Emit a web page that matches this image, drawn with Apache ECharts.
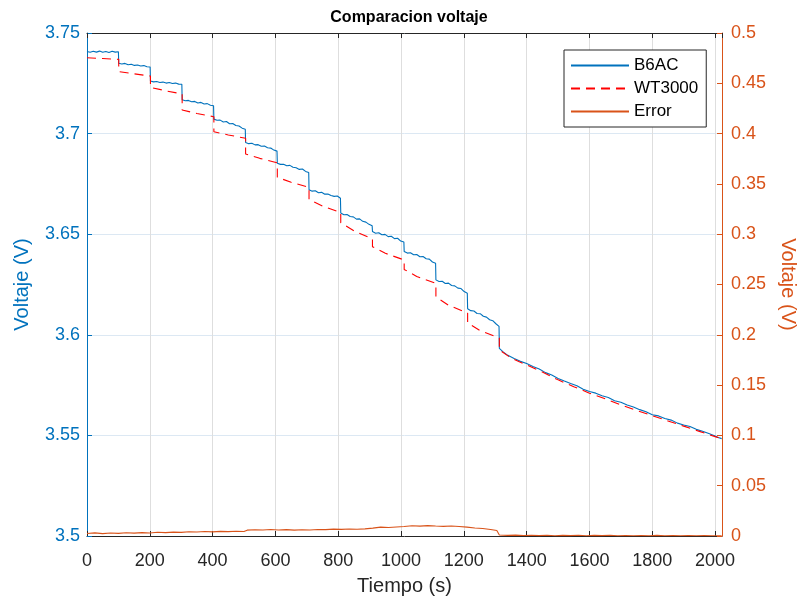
<!DOCTYPE html>
<html>
<head>
<meta charset="utf-8">
<title>Comparacion voltaje</title>
<script src="https://cdn.jsdelivr.net/npm/echarts@6.0.0/dist/echarts.min.js"></script>
<style>
html,body{margin:0;padding:0;background:#fff;}
#chart{width:800px;height:600px;}
</style>
</head>
<body>
<div id="chart"></div>
<script>
// B6AC: [tiempo (s), voltaje (V)]
var b6ac = [
	[0,3.7408],[10,3.7404],[20,3.7409],[30,3.7405],[40,3.7410],[50,3.7404],[60,3.7408],[70,3.7403],[80,3.7409],[90,3.7405],[100,3.7407],
	[101,3.7350],[111,3.7346],[121,3.7349],[131,3.7342],[141,3.7345],[151,3.7339],[161,3.7341],[171,3.7336],[181,3.7338],[191,3.7332],[201,3.7331],
	[202,3.7261],[212,3.7257],[222,3.7259],[232,3.7254],[242,3.7256],[252,3.7251],[262,3.7254],[272,3.7249],[282,3.7251],[292,3.7246],[302,3.7245],
	[303,3.7168],[313,3.7163],[323,3.7165],[333,3.7158],[343,3.7160],[353,3.7152],[363,3.7155],[373,3.7147],[383,3.7149],[393,3.7141],[403,3.7138],
	[404,3.7072],[414,3.7066],[424,3.7067],[434,3.7058],[444,3.7060],[454,3.7049],[464,3.7050],[474,3.7040],[484,3.7038],[494,3.7027],[504,3.7022],
	[505,3.6956],[515,3.6950],[525,3.6952],[535,3.6944],[545,3.6945],[555,3.6937],[565,3.6938],[575,3.6930],[585,3.6928],[595,3.6918],[605,3.6913],
	[606,3.6853],[616,3.6847],[626,3.6848],[636,3.6840],[646,3.6842],[656,3.6833],[666,3.6830],[676,3.6822],[686,3.6824],[696,3.6812],[706,3.6807],
	[707,3.6721],[717,3.6714],[727,3.6716],[737,3.6706],[747,3.6708],[757,3.6699],[767,3.6700],[777,3.6692],[787,3.6688],[797,3.6690],[807,3.6679],
	[808,3.6605],[818,3.6597],[828,3.6598],[838,3.6588],[848,3.6586],[858,3.6575],[868,3.6576],[878,3.6564],[888,3.6560],[898,3.6549],[908,3.6542],
	[909,3.6513],[919,3.6505],[929,3.6507],[939,3.6497],[949,3.6499],[959,3.6488],[969,3.6490],[979,3.6478],[989,3.6480],[999,3.6466],[1009,3.6461],
	[1010,3.6414],[1020,3.6406],[1030,3.6408],[1040,3.6398],[1050,3.6399],[1060,3.6388],[1070,3.6389],[1080,3.6378],[1090,3.6376],[1100,3.6362],[1110,3.6356],
	[1111,3.6273],[1121,3.6265],[1131,3.6266],[1141,3.6255],[1151,3.6257],[1161,3.6245],[1171,3.6243],[1181,3.6232],[1191,3.6230],[1201,3.6215],[1211,3.6207],
	[1212,3.6129],[1222,3.6120],[1232,3.6118],[1242,3.6106],[1252,3.6105],[1262,3.6092],[1272,3.6088],[1282,3.6075],[1292,3.6070],[1302,3.6055],[1312,3.6042],
	[1313,3.5933],[1325,3.5915],[1340,3.5898],[1360,3.5882],[1380,3.5868],[1400,3.5857],[1420,3.5842],[1440,3.5830],[1460,3.5812],[1480,3.5800],
	[1500,3.5783],[1520,3.5770],[1540,3.5758],[1560,3.5747],[1580,3.5729],[1600,3.5718],[1620,3.5710],[1640,3.5697],[1660,3.5688],[1680,3.5672],
	[1700,3.5665],[1720,3.5651],[1740,3.5641],[1760,3.5628],[1780,3.5618],[1800,3.5603],[1820,3.5597],[1840,3.5584],[1860,3.5576],[1880,3.5561],
	[1900,3.5552],[1920,3.5544],[1940,3.5530],[1960,3.5521],[1980,3.5509],[2000,3.5497],[2010,3.5490],[2021,3.5484]
];

// WT3000: [tiempo (s), voltaje (V)]
var wt3000 = [
	[0,3.7377],[50,3.7373],[101,3.7369],
	[101,3.7308],[150,3.7297],[202,3.7286],
	[202,3.7230],[250,3.7213],[303,3.7197],
	[303,3.7117],[350,3.7100],[404,3.7084],
	[404,3.7009],[450,3.6993],[505,3.6977],
	[505,3.6899],[550,3.6877],[606,3.6855],
	[606,3.6783],[650,3.6758],[707,3.6733],
	[707,3.6673],[750,3.6640],[808,3.6607],
	[808,3.6557],[850,3.6517],[909,3.6476],
	[909,3.6438],[950,3.6405],[1010,3.6372],
	[1010,3.6325],[1050,3.6290],[1111,3.6256],
	[1111,3.6188],[1150,3.6148],[1212,3.6108],
	[1212,3.6059],[1250,3.6022],[1313,3.5984],
	[1313,3.5925],[1350,3.5885],[1400,3.5850],[1450,3.5815],[1500,3.5776],[1550,3.5742],
	[1600,3.5710],[1650,3.5682],[1700,3.5652],[1750,3.5624],[1800,3.5598],[1850,3.5572],
	[1900,3.5546],[1950,3.5520],[2000,3.5494],[2021,3.5483]
];

// Error: [tiempo (s), V]
var errorV = [
	[0,0.0025],[25,0.0031],[50,0.0024],[75,0.0030],[100,0.0026],[125,0.0032],[150,0.0029],[175,0.0034],
	[200,0.0030],[225,0.0038],[250,0.0034],[275,0.0039],[300,0.0036],[325,0.0042],[350,0.0040],[375,0.0044],
	[400,0.0041],[425,0.0046],[450,0.0043],[475,0.0047],[500,0.0045],[510,0.0058],[535,0.0062],[560,0.0059],
	[585,0.0064],[610,0.0060],[635,0.0063],[660,0.0058],[685,0.0062],[710,0.0059],[735,0.0065],[760,0.0063],
	[785,0.0068],[810,0.0066],[835,0.0070],[860,0.0067],[885,0.0071],[910,0.0078],[935,0.0088],[960,0.0084],
	[985,0.0090],[1010,0.0094],[1035,0.0102],[1060,0.0098],[1085,0.0103],[1110,0.0099],[1135,0.0096],[1160,0.0099],
	[1185,0.0094],[1210,0.0088],[1235,0.0080],[1260,0.0074],[1285,0.0064],[1305,0.0055],[1313,0.0010],[1340,0.0006],
	[1365,0.0009],[1390,0.0005],[1415,0.0008],[1440,0.0004],[1465,0.0007],[1490,0.0003],[1515,0.0006],[1540,0.0004],
	[1565,0.0007],[1590,0.0003],[1615,0.0006],[1640,0.0004],[1665,0.0007],[1690,0.0003],[1715,0.0005],[1740,0.0002],
	[1765,0.0005],[1790,0.0003],[1815,0.0006],[1840,0.0002],[1865,0.0004],[1890,0.0002],[1915,0.0005],[1940,0.0002],
	[1965,0.0004],[1990,0.0002],[2021,0.0003]
];

var xMin = 0, xMax = 2022, xStep = 200;
var yLeft = [3.5, 3.75, 0.05];
var yRight = [0, 0.5, 0.05];

var azul = '#0072BD', naranja = '#D95319', rojo = '#FF0000', negro = '#262626';
var fuente = 'Arial, "Liberation Sans", Helvetica, sans-serif';

var myChart = echarts.init(document.getElementById('chart'));
option = {
	animation: false,
	backgroundColor: '#fff',
	title: {
		text: 'Comparacion voltaje',
		left: 404, top: 5, textAlign: 'center',
		textStyle: {fontFamily: fuente, fontSize: 16, fontWeight: 'bold', color: '#000'}
	},
	grid: {left: 87, right: 78, top: 33, bottom: 64, containLabel: false, outerBoundsMode: 'none'},
	legend: {
		orient: 'vertical',
		left: 564, top: 50,
		padding: [7, 8, 7, 6],
		itemWidth: 58, itemHeight: 14, itemGap: 6,
		borderColor: '#262626', borderWidth: 1, backgroundColor: '#fff',
		itemStyle: {opacity: 0},
		textStyle: {fontFamily: fuente, fontSize: 17, color: '#000'},
		data: ['B6AC', 'WT3000', 'Error']
	},
	xAxis: [
		{
			type: 'value', min: xMin, max: xMax, interval: xStep,
			name: 'Tiempo (s)', nameLocation: 'middle', nameGap: 40,
			nameTextStyle: {fontFamily: fuente, fontSize: 20, color: negro},
			axisLine: {onZero: false, lineStyle: {color: negro, width: 1}},
			axisTick: {inside: true, length: 5, lineStyle: {color: negro}},
			axisLabel: {fontFamily: fuente, fontSize: 18, color: negro, margin: 16, showMaxLabel: false,
				formatter: function(v){ return String(v); }},
			splitLine: {show: true, lineStyle: {color: '#dedede', width: 1}}
		},
		{
			type: 'value', min: xMin, max: xMax, interval: xStep, position: 'top',
			axisLine: {onZero: false, lineStyle: {color: negro, width: 1}},
			axisTick: {inside: true, length: 5, lineStyle: {color: negro}},
			axisLabel: {show: false},
			splitLine: {show: false}
		}
	],
	yAxis: [
		{
			type: 'value', min: yLeft[0], max: yLeft[1], interval: yLeft[2], position: 'left',
			name: 'Voltaje (V)', nameLocation: 'middle', nameGap: 55, nameRotate: 90,
			nameTextStyle: {fontFamily: fuente, fontSize: 20, color: azul},
			axisLine: {show: true, onZero: false, lineStyle: {color: azul, width: 1}},
			axisTick: {show: true, inside: true, length: 5, lineStyle: {color: azul}},
			axisLabel: {fontFamily: fuente, fontSize: 18, color: azul, margin: 7},
			splitLine: {show: true, lineStyle: {color: '#dce8f3', width: 1}}
		},
		{
			type: 'value', min: yRight[0], max: yRight[1], interval: yRight[2], position: 'right',
			name: 'Voltaje (V)', nameLocation: 'middle', nameGap: 56, nameRotate: -90,
			nameTextStyle: {fontFamily: fuente, fontSize: 20, color: naranja},
			axisLine: {show: true, onZero: false, lineStyle: {color: naranja, width: 1}},
			axisTick: {show: true, inside: true, length: 5, lineStyle: {color: naranja}},
			axisLabel: {fontFamily: fuente, fontSize: 18, color: naranja, margin: 9},
			splitLine: {show: false}
		}
	],
	series: [
		{
			name: 'B6AC', type: 'line', xAxisIndex: 0, yAxisIndex: 0,
			data: b6ac, symbol: 'none', showSymbol: false, smooth: false,
			lineStyle: {color: azul, width: 1.1},
			itemStyle: {color: azul}
		},
		{
			name: 'WT3000', type: 'line', xAxisIndex: 0, yAxisIndex: 0,
			data: wt3000, symbol: 'none', showSymbol: false, smooth: false,
			lineStyle: {color: rojo, width: 1.1, type: [9, 6]},
			itemStyle: {color: rojo}
		},
		{
			name: 'Error', type: 'line', xAxisIndex: 0, yAxisIndex: 1,
			data: errorV, symbol: 'none', showSymbol: false, smooth: false,
			lineStyle: {color: naranja, width: 1.1},
			itemStyle: {color: naranja}
		}
	]
};
myChart.setOption(option);
</script>
</body>
</html>
